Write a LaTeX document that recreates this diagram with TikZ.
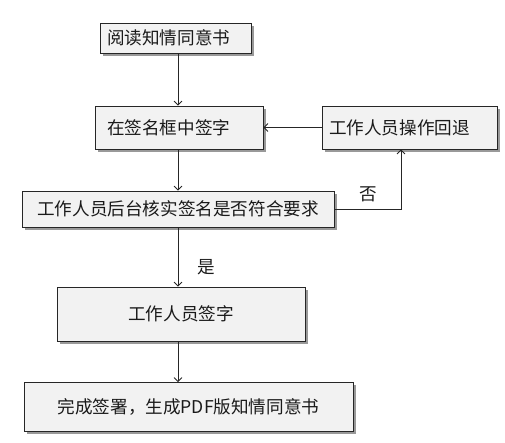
\documentclass[tikz,border=0pt]{standalone}
\usepackage{fontspec}
\setmainfont{Noto Sans CJK SC}
\usetikzlibrary{arrows.meta,shadows}
\definecolor{boxfill}{HTML}{F2F2F2}
\definecolor{boxline}{HTML}{262626}
\definecolor{txt}{HTML}{1A1A1A}
\begin{document}
\begin{tikzpicture}[x=1pt,y=-1pt,
  every node/.style={font=\fontsize{17.6}{19}\selectfont, text=txt},
  box/.style={draw=boxline, line width=0.8pt, fill=boxfill, rectangle, inner ysep=0pt,
    drop shadow={shadow xshift=2.5pt, shadow yshift=-2.5pt, fill=black!40, opacity=1}},
  cbox/.style={box, minimum width=#1, inner xsep=0pt},
  lbox/.style={box, align=left},
  conn/.style={draw=boxline, line width=0.8pt, -{Straight Barb[length=4pt,width=8pt]}},
  lbl/.style={inner sep=0pt}]
\useasboundingbox (0,0) rectangle (505,442);
\coordinate (axis) at (178,0);
\coordinate (nx) at (401,0);
\node[lbox, inner xsep=7pt, text width=137pt, minimum height=30pt] (b1) at (175.5,38) {阅读知情同意书};
\node[lbox, inner xsep=12pt, text width=144pt, minimum height=43pt] (b2) at (179,127.5) {在签名框中签字};
\node[lbox, inner xsep=7pt, text width=161pt, minimum height=43pt] (op) at (409.5,127.5) {工作人员操作回退};
\node[cbox=312pt, minimum height=36pt] (b3) at (178,209) {工作人员后台核实签名是否符合要求};
\node[cbox=248pt, minimum height=54pt] (b4) at (181,314) {工作人员签字};
\node[cbox=329pt, minimum height=49pt] (b5) at (188.5,407) {完成签署，生成PDF版知情同意书};
\draw[conn] (b1.south -| axis) -- (b2.north -| axis);
\draw[conn] (b2.south -| axis) -- (b3.north -| axis);
\draw[conn] (b3.south -| axis) -- (b4.north -| axis);
\draw[conn] (b4.south -| axis) -- (b5.north -| axis);
\draw[conn] (op.west) -- (b2.east |- op.west);
\draw[conn] (b3.east) -| (op.south -| nx);
\node[lbl] (no) at (368,194) {否};
\node[lbl] (yes) at (206,267) {是};
\end{tikzpicture}
\end{document}
